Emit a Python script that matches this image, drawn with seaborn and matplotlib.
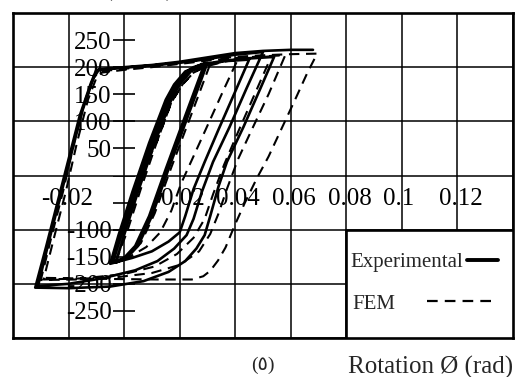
import numpy as np
import pandas as pd
import matplotlib
matplotlib.use("Agg")
import matplotlib.pyplot as plt
import matplotlib.transforms as mtransforms
from matplotlib.patches import Rectangle
from matplotlib.lines import Line2D
import seaborn as sns

# --- experimental hysteresis (rotation rad, moment kN.m) ---
exp_rot = [0.0055, 0.010, 0.016, 0.019, 0.022, 0.025, 0.029,
           0.022, 0.015, 0.009, 0.004, 0.000, -0.004,
           -0.001, 0.004, 0.010, 0.016, 0.019, 0.023, 0.027, 0.030,
           0.023, 0.016, 0.010, 0.005, 0.001, -0.003,
           0.000, 0.005, 0.011, 0.017, 0.020, 0.024, 0.029, 0.036, 0.045,
           0.040, 0.034, 0.029, 0.025, 0.022, 0.020, 0.016, 0.010, 0.003, -0.005,
           -0.002, 0.003, 0.009, 0.015, 0.018, 0.022, 0.028, 0.036, 0.045, 0.054,
           0.049, 0.043, 0.037, 0.034, 0.031, 0.029, 0.026, 0.022, 0.016, 0.007, -0.005, -0.020, -0.032,
           -0.028, -0.024, -0.020, -0.016, -0.012, -0.010, 0.000, 0.010, 0.020, 0.030, 0.040, 0.050,
           0.044, 0.038, 0.032, 0.028, 0.025, 0.0225, 0.018, 0.012, 0.004, -0.008, -0.020, -0.031,
           -0.027, -0.023, -0.019, -0.015, -0.011, -0.009, 0.000, 0.010, 0.020, 0.030, 0.040, 0.050, 0.060, 0.068]
exp_mom = [0, 60, 140, 168, 190, 200, 207,
           110, 12, -75, -130, -152, -160,
           -110, -30, 60, 140, 168, 192, 203, 208,
           110, 12, -75, -130, -152, -161,
           -110, -30, 60, 140, 168, 192, 204, 211, 214,
           155, 85, 25, -25, -75, -105, -122, -140, -152, -163,
           -110, -30, 60, 140, 168, 192, 205, 212, 216, 219,
           160, 90, 25, -20, -75, -110, -135, -158, -178, -195, -205, -208, -207,
           -130, -50, 30, 110, 170, 195, 199, 203, 208, 215, 223, 228,
           160, 90, 25, -30, -80, -110, -135, -158, -175, -190, -200, -204,
           -120, -40, 40, 120, 180, 196, 200, 204, 210, 218, 226, 230, 232, 232]

# --- FEM hysteresis ---
fem_rot = [0.006, 0.012, 0.017, 0.021, 0.025, 0.028, 0.031,
           0.024, 0.017, 0.011, 0.006, 0.001, -0.003,
           0.001, 0.006, 0.012, 0.017, 0.021, 0.025, 0.030, 0.036, 0.041,
           0.036, 0.030, 0.0245, 0.0205, 0.017, 0.013, 0.008, 0.002, -0.005,
           -0.001, 0.004, 0.010, 0.016, 0.019, 0.023, 0.029, 0.037, 0.045, 0.053,
           0.047, 0.041, 0.036, 0.032, 0.029, 0.025, 0.019, 0.011, 0.000, -0.015, -0.029,
           -0.025, -0.021, -0.017, -0.013, -0.010, -0.008, 0.000, 0.010, 0.020, 0.030, 0.040, 0.050, 0.058,
           0.052, 0.046, 0.041, 0.037, 0.034, 0.031, 0.027, 0.020, 0.010, -0.003, -0.017, -0.030,
           -0.026, -0.022, -0.018, -0.014, -0.011, -0.009, 0.000, 0.010, 0.020, 0.030, 0.040, 0.050, 0.060, 0.0695,
           0.066, 0.062, 0.057, 0.052, 0.0478, 0.0435, 0.0399, 0.0365, 0.0338, 0.031, 0.0285, 0.0244, 0.012, -0.005, -0.0285]
fem_mom = [0, 65, 135, 168, 190, 200, 206,
           110, 15, -70, -125, -150, -158,
           -105, -25, 65, 135, 168, 190, 202, 210, 215,
           160, 92, 30, -15, -65, -105, -132, -150, -160,
           -105, -25, 65, 140, 168, 190, 203, 212, 217, 220,
           150, 80, 20, -35, -80, -115, -145, -168, -182, -190, -192,
           -110, -30, 60, 140, 180, 190, 195, 200, 206, 212, 217, 220, 222,
           150, 85, 30, -25, -70, -108, -140, -165, -180, -188, -192, -193,
           -110, -30, 60, 140, 180, 192, 197, 202, 208, 214, 219, 222, 224, 225,
           190, 145, 90, 35, -5, -50, -91, -133, -157, -176, -186, -192, -192, -191, -189]

x_ticks = [-0.02, 0.02, 0.04, 0.06, 0.08, 0.1, 0.12]
x_labels = ["-0.02", "0.02", "0.04", "0.06", "0.08", "0.1", "0.12"]
y_ticks = [-250, -200, -150, -100, -50, 0, 50, 100, 150, 200, 250]
y_labels = ["-250", "-200", "-150", "-100", "", "", "50", "100", "150", "200", "250"]

exp = pd.DataFrame({"rot": exp_rot, "moment": exp_mom})
fem = pd.DataFrame({"rot": fem_rot, "moment": fem_mom})

sns.set_style("white")
plt.rcParams["font.family"] = ["Liberation Serif", "DejaVu Sans"]
plt.rcParams["axes.unicode_minus"] = False

fig = plt.figure(figsize=(5.15, 3.77), dpi=100)
ax = fig.add_axes([13 / 515, 39 / 377, 500 / 515, 325 / 377])

fem_dash = (0, (5, 3.2))
sns.lineplot(data=exp, x="rot", y="moment", sort=False, estimator=None,
             color="black", lw=1.9, ax=ax)
sns.lineplot(data=fem, x="rot", y="moment", sort=False, estimator=None,
             color="black", lw=1.5, linestyle=fem_dash, ax=ax)

ax.set_xlim(-0.04, 0.14)
ax.set_ylim(-300, 300)
ax.set_xticks(np.arange(-0.04, 0.141, 0.02))
ax.set_yticks(range(-300, 301, 100))
ax.tick_params(length=0, labelbottom=False, labelleft=False)
ax.grid(True, color="black", lw=1.1)
ax.set_xlabel("")
ax.set_ylabel("")
for s in ax.spines.values():
    s.set_color("black")
    s.set_linewidth(1.9)

# y axis through rotation = 0
sy = ax.secondary_yaxis(0.04 / 0.18)
sy.set_yticks(y_ticks, labels=y_labels)
sy.tick_params(direction="inout", length=16, width=1.2, pad=1, labelsize=18, colors="black")
for s in sy.spines.values():
    s.set_visible(False)

# x labels under moment = 0, decimal point sitting on the grid line
sx = ax.secondary_xaxis(0.5)
sx.set_alignment("bottom")
sx.set_xticks(x_ticks, labels=x_labels)
sx.tick_params(length=0, pad=9, labelsize=18, colors="black")
for s in sx.spines.values():
    s.set_visible(False)
for lab in sx.get_xticklabels():
    shift = -20 if lab.get_text().startswith("-") else -13.5
    lab.set_horizontalalignment("left")
    lab.set_transform(lab.get_transform() + mtransforms.ScaledTranslation(shift / 72, 0, fig.dpi_scale_trans))

# legend box occupying the lower right grid cells
ax.add_patch(Rectangle((0.08, -300), 0.06, 200, facecolor="white", edgecolor="black",
                       lw=1.9, zorder=3))
h_exp = Line2D([], [], color="black", lw=2.8)
h_fem = Line2D([], [], color="black", lw=1.6, linestyle=(0, (4.8, 3.2)))
leg1 = ax.legend([h_exp], ["Experimental"], markerfirst=False, frameon=False,
                 loc="center left", bbox_to_anchor=(0.0815, -160), bbox_transform=ax.transData,
                 fontsize=15, handlelength=1.45, handletextpad=0.2, borderpad=0, borderaxespad=0)
ax.add_artist(leg1)
ax.legend([h_fem], ["FEM"], markerfirst=False, frameon=False,
          loc="center left", bbox_to_anchor=(0.082, -237), bbox_transform=ax.transData,
          fontsize=15, handlelength=3.1, handletextpad=1.55, borderpad=0, borderaxespad=0)

fig.text(513 / 515, 1 - 367 / 377, "Rotation Ø (rad)", ha="right", va="center", fontsize=18)
fig.text(263 / 515, 1 - 365 / 377, "(٥)", ha="center", va="center", fontsize=14,
         family=["Liberation Serif", "DejaVu Sans"])
fig.text(139 / 515, 1 + 4 / 377, "(kN.m)", ha="center", va="baseline", fontsize=17)

fig.savefig("out.png", dpi=100)
